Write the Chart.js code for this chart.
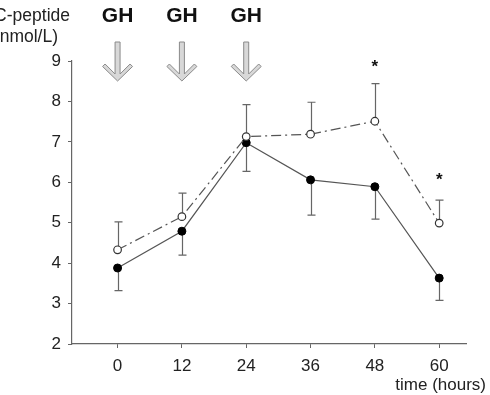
<!DOCTYPE html>
<html>
<head>
<meta charset="utf-8">
<script src="https://cdn.jsdelivr.net/npm/chart.js@4/dist/chart.umd.min.js"></script>
<style>
html,body{margin:0;padding:0;background:#fff;}
#wrap{width:490px;height:395px;position:relative;}
</style>
</head>
<body>
<div id="wrap"><canvas id="c" width="490" height="395"></canvas></div>
<script>
// ---- data ----
const timePoints = [0, 12, 24, 36, 48, 60];
const filledValues = [3.88, 4.79, 6.98, 6.06, 5.89, 3.63];
const filledErrLow = [3.32, 4.20, 6.27, 5.19, 5.09, 3.08];
const openValues = [4.33, 5.15, 7.13, 7.19, 7.51, 4.99];
const openErrHigh = [5.02, 5.73, 7.92, 7.98, 8.44, 5.56];
const xTickValues = [0, 12, 24, 36, 48, 60];
const yTickValues = [2, 3, 4, 5, 6, 7, 8, 9];
const ghTimes = [0, 12, 24];
const ghLabel = "GH";
const sigTimes = [48, 60];
const sigLevels = [8.95, 6.16];
const yTitleLines = ["C-peptide", "(nmol/L)"];
const xTitle = "time (hours)";

const FONT = "'Liberation Sans', Arial, sans-serif";
Chart.defaults.font.family = FONT;

function pts(xs, ys) { return xs.map((x, i) => ({x: x, y: ys[i]})); }

const errorBars = {
  id: 'errorBars',
  beforeDatasetsDraw(chart) {
    const ctx = chart.ctx, xs = chart.scales.x, ys = chart.scales.y;
    ctx.save();
    ctx.strokeStyle = '#666';
    ctx.lineWidth = 1.2;
    const draw = (vals, ends) => {
      timePoints.forEach((t, i) => {
        const px = Math.round(xs.getPixelForValue(t)) + 0.5;
        const p0 = ys.getPixelForValue(vals[i]);
        const p1 = ys.getPixelForValue(ends[i]);
        ctx.beginPath();
        ctx.moveTo(px, p0); ctx.lineTo(px, p1);
        ctx.moveTo(px - 4, p1); ctx.lineTo(px + 4, p1);
        ctx.stroke();
      });
    };
    draw(filledValues, filledErrLow);
    draw(openValues, openErrHigh);
    ctx.restore();
  }
};

const annotations = {
  id: 'annotations',
  afterDraw(chart) {
    const ctx = chart.ctx, xs = chart.scales.x, ys = chart.scales.y;
    ctx.save();
    // y title (cut at the left edge)
    ctx.fillStyle = '#222';
    ctx.font = '17.5px ' + FONT;
    ctx.textAlign = 'right';
    ctx.textBaseline = 'alphabetic';
    ctx.fillText(yTitleLines[0], 70, 21);
    ctx.fillText(yTitleLines[1], 58, 42);
    // x title
    ctx.font = '17px ' + FONT;
    ctx.fillText(xTitle, 486, 390);
    // GH labels and arrows
    ghTimes.forEach(t => {
      const x = xs.getPixelForValue(t);
      ctx.fillStyle = '#111';
      ctx.font = 'bold 21px ' + FONT;
      ctx.textAlign = 'center';
      ctx.fillText(ghLabel, x, 22);
      ctx.beginPath();
      ctx.moveTo(x - 2.5, 42);
      ctx.lineTo(x + 2.5, 42);
      ctx.lineTo(x + 2.5, 74);
      ctx.lineTo(x + 12.5, 64);
      ctx.lineTo(x + 15, 66.5);
      ctx.lineTo(x, 81);
      ctx.lineTo(x - 15, 66.5);
      ctx.lineTo(x - 12.5, 64);
      ctx.lineTo(x - 2.5, 74);
      ctx.closePath();
      ctx.fillStyle = '#d8d8d8';
      ctx.fill();
      ctx.strokeStyle = '#8a8a8a';
      ctx.lineWidth = 1;
      ctx.stroke();
    });
    // significance asterisks
    ctx.fillStyle = '#111';
    ctx.font = 'bold 17px ' + FONT;
    ctx.textAlign = 'center';
    sigTimes.forEach((t, i) => {
      const x = xs.getPixelForValue(t);
      const y = ys.getPixelForValue(sigLevels[i]);
      ctx.fillText('*', x, y + 9);
    });
    ctx.restore();
  }
};

new Chart(document.getElementById('c'), {
  type: 'scatter',
  data: {
    datasets: [
      {
        data: pts(timePoints, openValues),
        showLine: true,
        borderColor: '#555',
        borderWidth: 1.2,
        borderDash: [10, 4, 2, 4],
        pointRadius: 3.8,
        pointBackgroundColor: '#fff',
        pointBorderColor: '#333',
        pointBorderWidth: 1.2
      },
      {
        data: pts(timePoints, filledValues),
        showLine: true,
        borderColor: '#555',
        borderWidth: 1.2,
        pointRadius: 4,
        pointBackgroundColor: '#000',
        pointBorderColor: '#000',
        pointBorderWidth: 1
      }
    ]
  },
  options: {
    responsive: false,
    animation: false,
    devicePixelRatio: 1,
    layout: {padding: {top: 61, right: 24, left: 0, bottom: 0}},
    plugins: {legend: {display: false}, tooltip: {enabled: false}},
    scales: {
      x: {
        type: 'linear', min: -8.5, max: 65,
        afterBuildTicks: s => { s.ticks = xTickValues.map(v => ({value: v})); },
        afterFit: s => { s.height = 51; },
        grid: {drawOnChartArea: false, drawTicks: true, tickLength: 4, color: '#666'},
        border: {color: '#666', width: 1.2},
        ticks: {padding: 8, color: '#222', font: {size: 17}, maxRotation: 0}
      },
      y: {
        min: 2, max: 9,
        afterBuildTicks: s => { s.ticks = yTickValues.map(v => ({value: v})); },
        afterFit: s => { s.width = 72; },
        grid: {drawOnChartArea: false, drawTicks: true, tickLength: 4, color: '#666'},
        border: {color: '#666', width: 1.2},
        ticks: {padding: 7, color: '#222', font: {size: 17}}
      }
    }
  },
  plugins: [errorBars, annotations]
});
</script>
</body>
</html>
